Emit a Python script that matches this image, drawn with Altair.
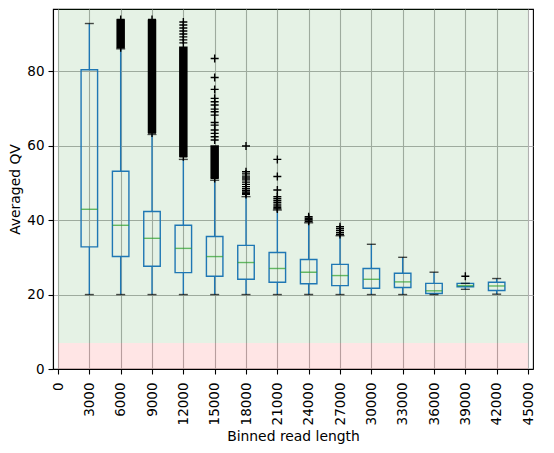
import altair as alt
import pandas as pd

# ---- data ----
bins = [3000, 6000, 9000, 12000, 15000, 18000, 21000, 24000, 27000, 30000, 33000, 36000, 39000, 42000]
whis_lo = [20.0, 20.0, 20.0, 20.0, 20.0, 20.0, 20.0, 20.0, 20.0, 20.0, 20.0, 20.0, 21.4, 20.1]
q1 = [32.8, 30.2, 27.6, 25.9, 24.9, 24.1, 23.3, 22.9, 22.4, 21.7, 21.9, 20.3, 22.1, 21.1]
median = [42.9, 38.6, 35.1, 32.4, 30.2, 28.6, 27.0, 26.0, 25.1, 24.1, 23.4, 21.0, 22.4, 22.3]
q3 = [80.4, 53.1, 42.3, 38.6, 35.6, 33.2, 31.3, 29.4, 28.1, 27.0, 25.7, 23.0, 23.0, 23.3]
whis_hi = [92.8, 86.0, 63.0, 56.3, 50.7, 46.3, 42.7, 39.3, 35.8, 33.5, 30.0, 26.0, 23.0, 24.3]

# dense outlier clusters (drawn as solid stacks)
band_bins = [6000, 9000, 12000, 15000]
band_lo = [86.3, 63.4, 57.0, 51.2]
band_hi = [93.9, 93.9, 86.6, 60.1]

# individual outliers
outlier_bins = (
    [6000] * 2
    + [9000] * 2
    + [12000] * 9
    + [15000] * 16
    + [18000] * 14
    + [21000] * 11
    + [24000] * 4
    + [27000] * 5
    + [39000]
)
outlier_vals = (
    [93.9, 86.3]
    + [93.9, 63.4]
    + [93.2, 92.4, 91.6, 90.8, 90.0, 89.2, 88.4, 87.6, 57.0]
    + [83.4, 78.3, 75.1, 72.7, 71.8, 70.9, 69.8, 69.1, 68.2, 66.2, 65.5, 64.2, 63.3, 62.4, 61.5, 51.2]
    + [59.9, 53.0, 52.4, 51.8, 51.3, 50.8, 50.2, 49.6, 49.0, 48.4, 47.9, 47.5, 47.2, 46.9]
    + [56.3, 51.7, 48.1, 46.3, 45.8, 45.3, 44.8, 44.3, 43.8, 43.3, 43.0]
    + [40.9, 40.5, 40.1, 39.7]
    + [38.2, 37.7, 37.2, 36.6, 36.1]
    + [24.9]
)

# shaded horizontal spans
span_lo = [0, 7]
span_hi = [7, 100]
span_color = ["red", "green"]

x_ticks = list(range(0, 45001, 3000))
y_ticks = [0, 20, 40, 60, 80]
x_limits = [0, 45000]
y_limits = [0, 96.7]

# ---- tables ----
box_df = pd.DataFrame(dict(bin=bins, lo=whis_lo, q1=q1, med=median, q3=q3, hi=whis_hi))
band_df = pd.DataFrame(dict(bin=band_bins, lo=band_lo, hi=band_hi))
out_df = pd.DataFrame(dict(bin=outlier_bins, v=outlier_vals))
span_df = pd.DataFrame(dict(xa=[x_limits[0]] * 2, xb=[x_limits[1]] * 2, lo=span_lo, hi=span_hi, c=span_color))

BLUE = "#1f77b4"
GREEN = "#2ca02c"

x_scale = alt.Scale(domain=x_limits, nice=False, zero=False)
y_scale = alt.Scale(domain=y_limits, nice=False)
x_axis = alt.Axis(values=x_ticks, format="d", labelAngle=-90, title="Binned read length",
                  labelPadding=8, titlePadding=5, grid=True)
y_axis = alt.Axis(values=y_ticks, title="Averaged QV", labelPadding=4, titlePadding=4, grid=True)


def X(field):
    return alt.X(field, type="quantitative", scale=x_scale, axis=x_axis)


def Y(field):
    return alt.Y(field, type="quantitative", scale=y_scale, axis=y_axis)


spans = alt.Chart(span_df).mark_rect(opacity=0.1, clip=True).encode(
    x=X("xa"), x2="xb", y=Y("lo"), y2="hi",
    color=alt.Color("c:N", scale=None, legend=None),
)

base = alt.Chart(box_df)
whisk_low = base.mark_rule(color=BLUE, strokeWidth=1.4).encode(x=X("bin"), y=Y("lo"), y2="q1")
whisk_high = base.mark_rule(color=BLUE, strokeWidth=1.4).encode(x=X("bin"), y=Y("q3"), y2="hi")
cap_low = base.mark_tick(orient="horizontal", size=9, thickness=1.4, color="black").encode(x=X("bin"), y=Y("lo"))
cap_high = base.mark_tick(orient="horizontal", size=9, thickness=1.4, color="black").encode(x=X("bin"), y=Y("hi"))
boxes = base.mark_bar(width=16.5, fillOpacity=0, stroke=BLUE, strokeWidth=1.4).encode(
    x=X("bin"), y=Y("q1"), y2="q3")
medians = base.mark_tick(orient="horizontal", size=16.5, thickness=1.4, color=GREEN).encode(
    x=X("bin"), y=Y("med"))

bands = alt.Chart(band_df).mark_rule(color="black", strokeWidth=8.5, strokeCap="butt").encode(
    x=X("bin"), y=Y("lo"), y2="hi")

outliers = alt.Chart(out_df).mark_point(
    shape="M-1,0L1,0M0,-1L0,1", size=64, filled=False, color="black", strokeWidth=1.4, opacity=1
).encode(x=X("bin"), y=Y("v"))

chart = alt.layer(
    spans, whisk_low, whisk_high, boxes, medians, cap_low, cap_high, bands, outliers
).properties(
    width=480, height=360, padding={"left": 0, "top": 1, "right": 5, "bottom": 5}
).configure_view(
    stroke="black", strokeWidth=1.1
).configure_axis(
    labelFont="DejaVu Sans", titleFont="DejaVu Sans", labelFontSize=13.5, titleFontSize=13.9,
    titleFontWeight="normal", labelColor="black", titleColor="black",
    domainColor="black", domainWidth=1.1, tickColor="black", tickWidth=1.1, tickSize=5,
    gridColor="#b0b0b0", gridWidth=1.1,
)

chart.save("out.html", embed_options={"renderer": "svg", "actions": False})
